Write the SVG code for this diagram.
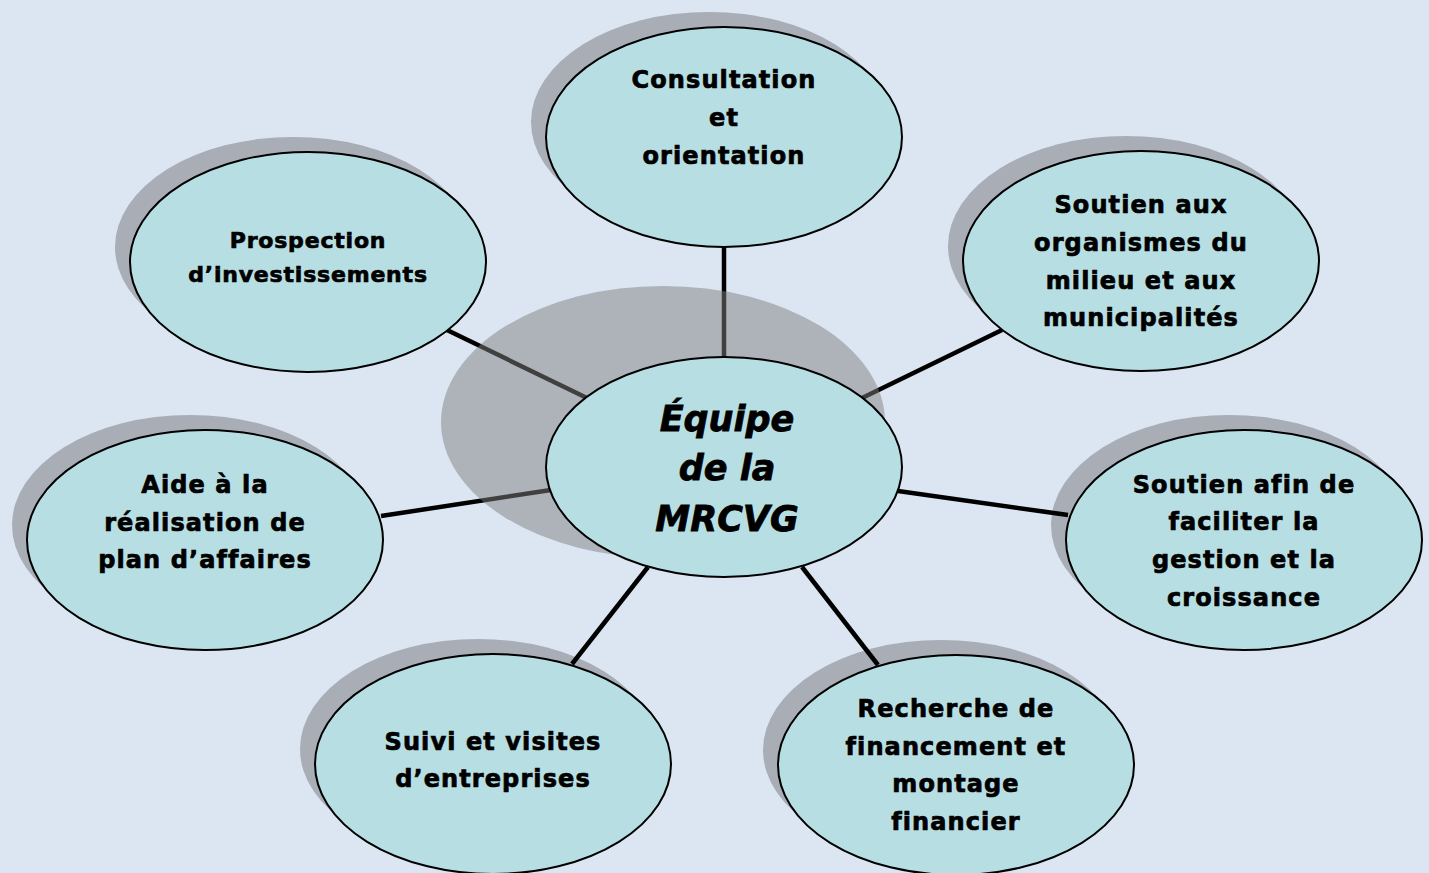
<svg xmlns="http://www.w3.org/2000/svg" width="1429" height="873" viewBox="0 0 1429 873">
<style>
.sh{fill:#a9adb5;}
.nd{fill:#b7dfe3;stroke:#000;stroke-width:2;}
.ln{stroke:#000;stroke-width:4.5;fill:none;}
.t{font-family:"DejaVu Sans","Liberation Sans",sans-serif;font-weight:bold;font-size:24px;letter-spacing:1.1px;text-anchor:middle;fill:#000;stroke:#000;stroke-width:0.7px;}
.ts{font-size:22px;letter-spacing:0.8px;}
.tc{font-family:"DejaVu Sans","Liberation Sans",sans-serif;font-weight:bold;font-style:italic;font-size:35px;text-anchor:middle;fill:#000;stroke:#000;stroke-width:0.8px;}
</style>
<rect width="1429" height="873" fill="#dce6f2"/>
<g id="shadows">
<ellipse class="sh" cx="709" cy="122" rx="178" ry="110"/>
<ellipse class="sh" cx="293" cy="247" rx="178" ry="110"/>
<ellipse class="sh" cx="1126" cy="246" rx="178" ry="110"/>
<ellipse class="sh" cx="190" cy="525" rx="178" ry="110"/>
<ellipse class="sh" cx="1229" cy="525" rx="178" ry="110"/>
<ellipse class="sh" cx="478" cy="749" rx="178" ry="110"/>
<ellipse class="sh" cx="941" cy="750" rx="178" ry="110"/>
</g>
<g id="connectors">
<line class="ln" x1="724" y1="247" x2="724" y2="358"/>
<line class="ln" x1="447" y1="330" x2="587" y2="398"/>
<line class="ln" x1="1002" y1="330" x2="862" y2="398"/>
<line class="ln" x1="381" y1="516" x2="551" y2="490"/>
<line class="ln" x1="898" y1="491" x2="1068" y2="515"/>
<line class="ln" x1="572" y1="664" x2="648" y2="567"/>
<line class="ln" x1="802" y1="567" x2="878" y2="665"/>
</g>
<g id="center">
<ellipse cx="663" cy="422" rx="222" ry="136" fill="#808080" fill-opacity="0.5"/>
<ellipse class="nd" cx="724" cy="467" rx="178" ry="110"/>
<text class="tc"><tspan x="727" y="431">Équipe</tspan><tspan x="727" y="480">de la</tspan><tspan x="727" y="531">MRCVG</tspan></text>
</g>
<g id="n-consultation">
<ellipse class="nd" cx="724" cy="137" rx="178" ry="110"/>
<text class="t"><tspan x="724" y="88">Consultation</tspan><tspan x="724" y="126">et</tspan><tspan x="724" y="164">orientation</tspan></text>
</g>
<g id="n-prospection">
<ellipse class="nd" cx="308" cy="262" rx="178" ry="110"/>
<text class="t ts"><tspan x="308" y="248">Prospection</tspan><tspan x="308" y="282">d’investissements</tspan></text>
</g>
<g id="n-soutien-organismes">
<ellipse class="nd" cx="1141" cy="261" rx="178" ry="110"/>
<text class="t"><tspan x="1141" y="213">Soutien aux</tspan><tspan x="1141" y="251">organismes du</tspan><tspan x="1141" y="289">milieu et aux</tspan><tspan x="1141" y="326">municipalités</tspan></text>
</g>
<g id="n-aide">
<ellipse class="nd" cx="205" cy="540" rx="178" ry="110"/>
<text class="t"><tspan x="205" y="493">Aide à la</tspan><tspan x="205" y="531">réalisation de</tspan><tspan x="205" y="568">plan d’affaires</tspan></text>
</g>
<g id="n-soutien-gestion">
<ellipse class="nd" cx="1244" cy="540" rx="178" ry="110"/>
<text class="t"><tspan x="1244" y="493">Soutien afin de</tspan><tspan x="1244" y="530">faciliter la</tspan><tspan x="1244" y="568">gestion et la</tspan><tspan x="1244" y="606">croissance</tspan></text>
</g>
<g id="n-suivi">
<ellipse class="nd" cx="493" cy="764" rx="178" ry="110"/>
<text class="t"><tspan x="493" y="750">Suivi et visites</tspan><tspan x="493" y="787">d’entreprises</tspan></text>
</g>
<g id="n-recherche">
<ellipse class="nd" cx="956" cy="765" rx="178" ry="110"/>
<text class="t"><tspan x="956" y="717">Recherche de</tspan><tspan x="956" y="755">financement et</tspan><tspan x="956" y="792">montage</tspan><tspan x="956" y="830">financier</tspan></text>
</g>
</svg>
